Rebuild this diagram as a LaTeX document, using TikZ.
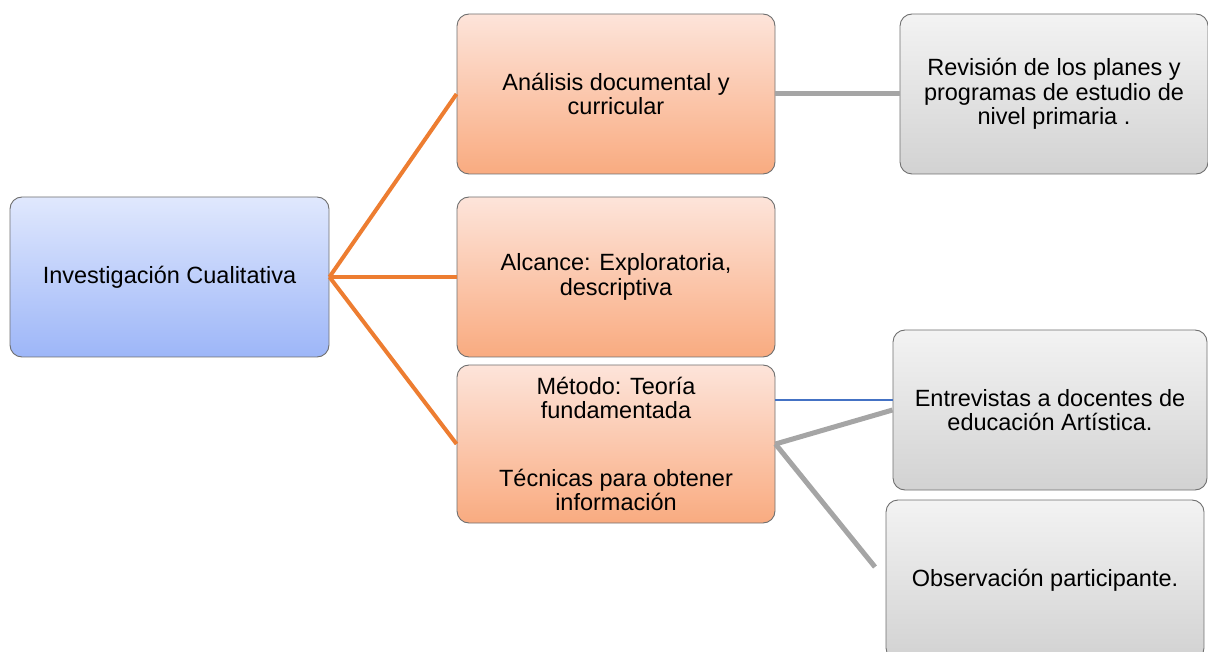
\documentclass[tikz,border=0pt]{standalone}
\usepackage{fontspec}
\setmainfont{Liberation Sans}
\usetikzlibrary{positioning}

\definecolor{blueTop}{HTML}{E0E8FD}
\definecolor{blueBot}{HTML}{9DB6F8}
\definecolor{orangeTop}{HTML}{FDE4DA}
\definecolor{orangeBot}{HTML}{F9AB80}
\definecolor{grayTop}{HTML}{F3F3F3}
\definecolor{grayBot}{HTML}{D2D2D2}
\definecolor{boxLine}{HTML}{6F6F6F}
\definecolor{orangeLine}{HTML}{ED7D31}
\definecolor{grayLine}{HTML}{A5A5A5}
\definecolor{blueLine}{HTML}{4472C4}

\begin{document}
\begin{tikzpicture}[x=1pt,y=-1pt,
    box/.style={draw=boxLine,line width=0.9pt,rounded corners=12pt,minimum height=160pt,
        align=center,inner sep=2pt,font=\fontsize{23.5}{24.5}\selectfont},
    bluebox/.style={box,top color=blueTop,bottom color=blueBot},
    orangebox/.style={box,top color=orangeTop,bottom color=orangeBot,minimum width=318pt},
    graybox/.style={box,top color=grayTop,bottom color=grayBot},
    orangeline/.style={draw=orangeLine,line width=4pt},
    grayline/.style={draw=grayLine,line width=5pt},
    blueline/.style={draw=blueLine,line width=2pt}]

    \useasboundingbox (0,0) rectangle (1208,652);
    \clip (0,0) rectangle (1208,652);

    % Main topic
    \node [bluebox,minimum width=319pt] (inv) at (169.5,277) {Investigación Cualitativa};

    % Middle column
    \node [orangebox] (ana) at (616,94) {Análisis documental y\\curricular};
    \node [orangebox] (alc) at (616,277) {Alcance: Exploratoria,\\descriptiva};
    \node [orangebox,minimum height=158pt] (met) at (616,444)
        {Método: Teoría\\fundamentada\\[43pt]Técnicas para obtener\\información};

    % Right column
    \node [graybox,minimum width=308pt] (rev) at (1054,94) {Revisión de los planes y\\programas de estudio de\\nivel primaria .};
    \node [graybox,minimum width=314pt] (ent) at (1050,410) {Entrevistas a docentes de\\educación Artística.};
    \node [graybox,minimum width=318pt] (obs) at (1045,580) {Observación participante.};

    % Connectors from main topic
    \draw [orangeline] (inv.east) -- (ana.west);
    \draw [orangeline] (inv.east) -- (alc.west);
    \draw [orangeline] (inv.east) -- (met.west);

    % Connectors to right column
    \draw [grayline] (ana.east) -- (rev.west);
    \draw [blueline] ([yshift=10pt]ent.west) -- ([yshift=10pt]ent.west -| met.east);
    \draw [grayline] (met.east) -- (ent.west);
    \coordinate (obsend) at (875,567);
    \draw [grayline] (met.east) -- (obsend);

\end{tikzpicture}
\end{document}
